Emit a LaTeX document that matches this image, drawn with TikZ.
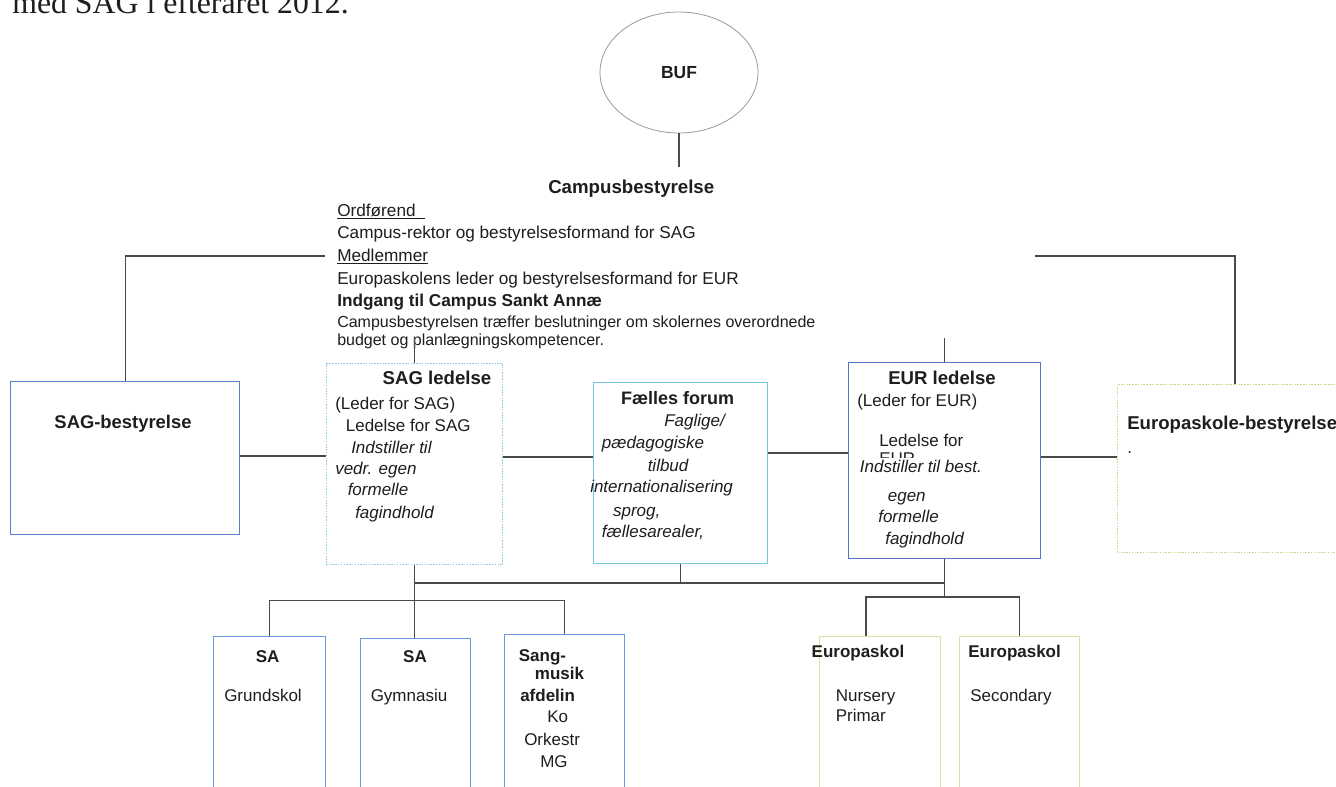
\documentclass[tikz,border=0pt]{standalone}
\usepackage{fontspec}
\setmainfont{Liberation Sans}
\newfontfamily\introserif{Liberation Serif}
\usetikzlibrary{shapes.geometric,calc}
\definecolor{ink}{HTML}{1E1E1E}
\definecolor{linegray}{HTML}{4A4A4A}
\definecolor{ellgray}{HTML}{9A9A9A}
\definecolor{sagblue}{HTML}{5B7FCB}
\definecolor{sagteal}{HTML}{92CBDD}
\definecolor{forumcyan}{HTML}{78C4E0}
\definecolor{eurblue}{HTML}{5674C8}
\definecolor{eurgreen}{HTML}{C8D88A}
\definecolor{sablue}{HTML}{6A98DE}
\definecolor{eugreen}{HTML}{D2E6A6}
\newcommand{\pxl}[1]{#1*0.75pt}
\tikzset{
  conn/.style={draw=linegray, line width=0.9pt},
  boxbase/.style={rectangle, inner sep=0pt, anchor=north west, line width=1.1pt},
  tx/.style={inner sep=0pt, anchor=base west, text=ink, font=\fontsize{12.75}{15}\selectfont},
  txi/.style={tx, font=\fontsize{12.75}{15}\selectfont\itshape},
  txb/.style={tx, font=\fontsize{12.75}{15}\selectfont\bfseries},
  body/.style={inner sep=0pt, anchor=base west, text=ink, font=\fontsize{12.9}{15}\selectfont},
  hd/.style={inner sep=0pt, anchor=base, text=ink, font=\fontsize{13.95}{16}\selectfont\bfseries},
}
\begin{document}
\begin{tikzpicture}[x=0.75pt,y=-0.75pt]
\useasboundingbox (0,0) rectangle (1336,786);
\fill[white] (0,0) rectangle (1336,786);

% cut-off intro line
\node[inner sep=0pt, anchor=base west, text=ink, font=\introserif\fontsize{23.85}{28}\selectfont] (intro) at (12,13) {med SAG i efteråret 2012.};

% BUF
\node[draw=ellgray, line width=0.6pt, ellipse, minimum width=\pxl{158}, minimum height=\pxl{121}, inner sep=0pt, text=ink, font=\fontsize{13.1}{15}\selectfont\bfseries] (buf) at (679,72.5) {BUF};

% Campusbestyrelse block
\node[inner sep=0pt, anchor=base west, text=ink, font=\fontsize{14}{16}\selectfont\bfseries] (cb) at (548,193.5) {Campusbestyrelse};
\node[body] (ord) at (337,216.5) {\underline{Ordførend\ \ }};
\node[body] (rek) at (337,238) {Campus-rektor og bestyrelsesformand for SAG};
\node[body] (medl) at (337,261.7) {\underline{Medlemmer}};
\node[body] (eurled) at (337,284) {Europaskolens leder og bestyrelsesformand for EUR};
\node[body, font=\fontsize{12.9}{15}\selectfont\bfseries] (indg) at (337,306) {Indgang til Campus Sankt Annæ};
\node[inner sep=0pt, anchor=base west, text=ink, font=\fontsize{12}{14}\selectfont] (beslut) at (337,327.5) {Campusbestyrelsen træffer beslutninger om skolernes overordnede};
\node[inner sep=0pt, anchor=base west, text=ink, font=\fontsize{12}{14}\selectfont] (budget) at (337,345.5) {budget og planlægningskompetencer.};

% boxes
\node[boxbase, draw=sagblue, minimum width=\pxl{229}, minimum height=\pxl{153}] (sagb) at (10,381) {};
\node[boxbase, draw=sagteal, densely dotted, minimum width=\pxl{176}, minimum height=\pxl{201}] (sagl) at (326,363) {};
\node[boxbase, draw=forumcyan, minimum width=\pxl{174}, minimum height=\pxl{181}] (faelles) at (593,382) {};
\node[boxbase, draw=eurblue, minimum width=\pxl{192}, minimum height=\pxl{196}] (eurl) at (848,362) {};
\node[boxbase, draw=eurgreen, densely dotted, minimum width=\pxl{260}, minimum height=\pxl{168}] (eurb) at (1117,384) {};
\node[boxbase, draw=sablue, minimum width=\pxl{112}, minimum height=\pxl{170}] (sa1) at (213,636) {};
\node[boxbase, draw=sablue, minimum width=\pxl{110}, minimum height=\pxl{170}] (sa2) at (360,638) {};
\node[boxbase, draw=sablue, minimum width=\pxl{120}, minimum height=\pxl{170}] (sang) at (504,634) {};
\node[boxbase, draw=eugreen, minimum width=\pxl{121}, minimum height=\pxl{170}] (eu1) at (819,636) {};
\node[boxbase, draw=eugreen, minimum width=\pxl{120}, minimum height=\pxl{170}] (eu2) at (959,636) {};

% SAG-bestyrelse
\node[hd, font=\fontsize{13.8}{16}\selectfont\bfseries] (sagbt) at (123,428.6) {SAG-bestyrelse};

% SAG ledelse
\node[hd] (saglt) at (437,384.7) {SAG ledelse};
\node[tx] (sagl1) at (335,409) {(Leder for SAG)};
\node[tx] (sagl2) at (345.6,431) {Ledelse for SAG};
\node[txi] (sagl3) at (351,453) {Indstiller til};
\node[txi] (sagl4) at (335,474) {vedr. egen};
\node[txi] (sagl5) at (347.5,495) {formelle};
\node[txi] (sagl6) at (355,518) {fagindhold};

% Faelles forum
\node[hd, font=\fontsize{13.5}{16}\selectfont\bfseries] (fft) at (677.6,404.7) {Fælles forum};
\node[txi] (ff1) at (664,426) {Faglige/};
\node[txi] (ff2) at (601.7,448.7) {pædagogiske};
\node[txi] (ff3) at (647.5,471) {tilbud};
\node[txi] (ff4) at (590,492.7) {internationalisering};
\node[txi] (ff5) at (612.8,516) {sprog,};
\node[txi] (ff6) at (601.7,537.7) {fællesarealer,};

% EUR ledelse
\node[hd] (eurlt) at (942,384.7) {EUR ledelse};
\node[tx] (eurl1) at (857,406) {(Leder for EUR)};
\node[tx] (eurl2) at (879,446) {Ledelse for};
\node[tx] (eurl3) at (879,464) {EUR};
\node[txi, fill=white, inner ysep=1.5pt] (eurl4) at (859.6,472.7) {Indstiller til best.};
\node[txi] (eurl5) at (887.6,501) {egen};
\node[txi] (eurl6) at (878,522.7) {formelle};
\node[txi] (eurl7) at (885,544) {fagindhold};

% Europaskole-bestyrelse
\node[hd, anchor=base west] (eurbt) at (1127,429.4) {Europaskole-bestyrelse};
\node[tx] (eurbdot) at (1127,453) {.};

% bottom boxes
\node[txb, anchor=base] (sa1t) at (267.7,662.7) {SA};
\node[tx] (sa1a) at (224,701) {Grundskol};
\node[txb, anchor=base] (sa2t) at (415,662.7) {SA};
\node[tx] (sa2a) at (370.5,701) {Gymnasiu};
\node[txb] (sg1) at (518.6,661) {Sang-};
\node[txb] (sg2) at (534.7,679) {musik};
\node[txb] (sg3) at (520,701) {afdelin};
\node[tx] (sg4) at (547,722.7) {Ko};
\node[tx] (sg5) at (524,745) {Orkestr};
\node[tx] (sg6) at (540,767.7) {MG};
\node[txb] (eu1t) at (811.4,657.7) {Europaskol};
\node[tx] (eu1a) at (835.5,701) {Nursery};
\node[tx] (eu1b) at (835.5,721) {Primar};
\node[txb] (eu2t) at (968,657.7) {Europaskol};
\node[tx] (eu2a) at (970,701) {Secondary};

% connectors
\draw[conn] (buf.south) -- (buf.south |- 0,167);
\coordinate (medlL) at (325,256);
\draw[conn] (sagb.north) |- (medlL);
\coordinate (rtL) at (1035,256);
\coordinate (eurbT) at (1235,384);
\draw[conn] (rtL) -| (eurbT);
\draw[conn] (sagl.north) -- ++(0,-26);
\draw[conn] (eurl.north) -- ++(0,-24);
\draw[conn] (sagb.east |- 0,456) -- (sagl.west |- 0,456);
\draw[conn] (sagl.east |- 0,457) -- (faelles.west |- 0,457);
\draw[conn] (faelles.east |- 0,453) -- (eurl.west |- 0,453);
\draw[conn] (eurl.east |- 0,457) -- (eurb.west |- 0,457);
\coordinate (busY) at (0,583);
\draw[conn] (sagl.south) -- (sagl.south |- sa2.north);
\draw[conn] (sagl.south |- busY) -- (eurl.south |- busY);
\draw[conn] (faelles.south) -- (faelles.south |- busY);
\draw[conn] (eurl.south) -- (eurl.south |- 0,597);
\draw[conn] (sa1.north) |- (sang.north |- 0,600.5) -- (sang.north);
\coordinate (eu1T) at (866,636);
\draw[conn] (eu1T) |- (eu2.north |- 0,597) -- (eu2.north);
\end{tikzpicture}
\end{document}
